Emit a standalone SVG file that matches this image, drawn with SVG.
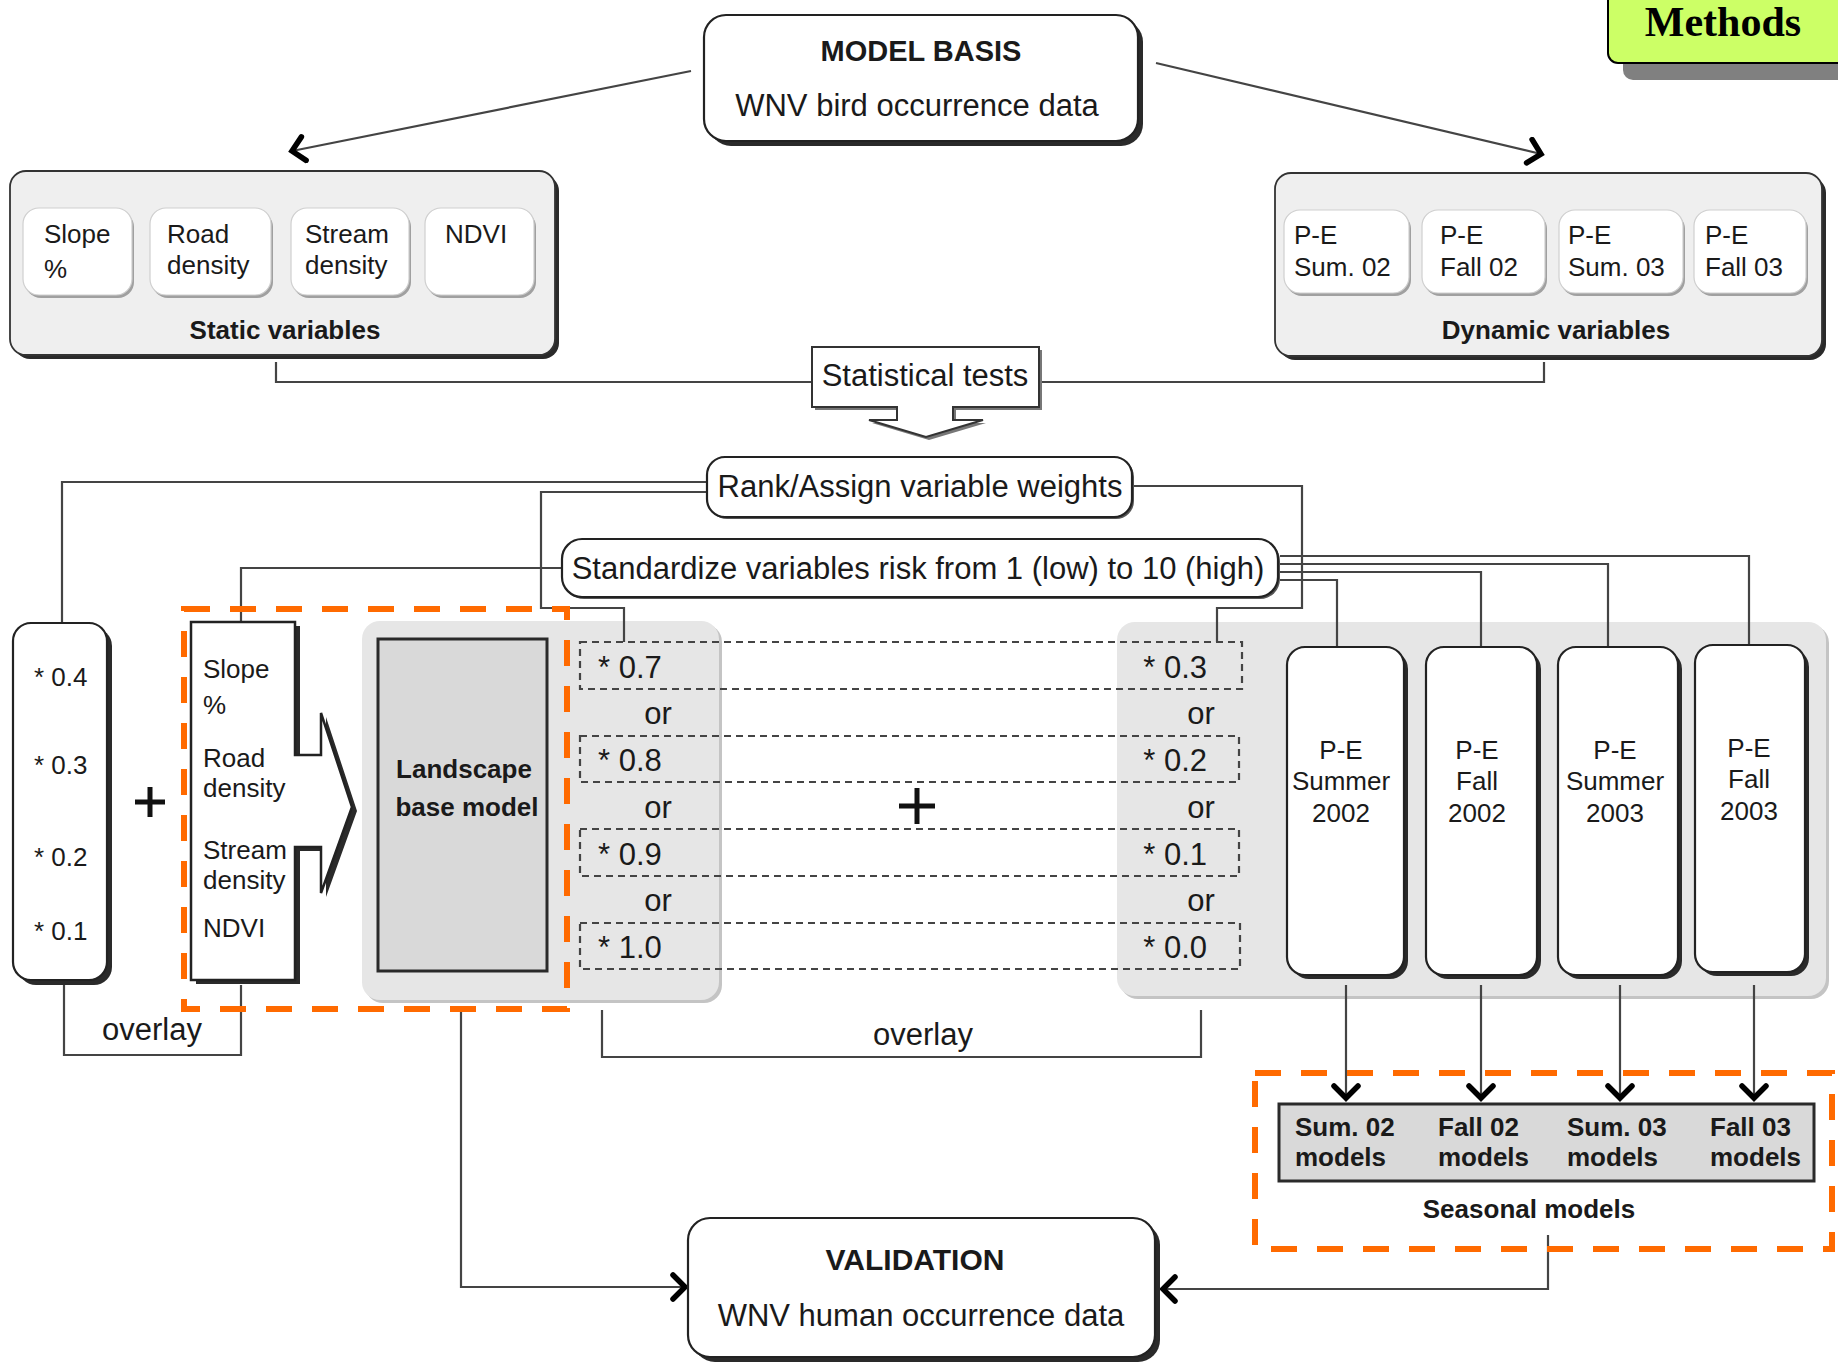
<svg xmlns="http://www.w3.org/2000/svg" width="1838" height="1364" viewBox="0 0 1838 1364">
<defs>
<marker id="chev" viewBox="0 0 20 30" refX="16" refY="15" markerWidth="20" markerHeight="30" markerUnits="userSpaceOnUse" orient="auto"><path d="M4,3 Q11,10 16,15 Q11,20 4,27" fill="none" stroke="#000" stroke-width="5.5" stroke-linecap="round"/></marker>
</defs>
<style>
text{font-family:"Liberation Sans",Arial,sans-serif;fill:#1a1a1a}
.t26{font-size:26px}
.t31{font-size:31px}
.b{font-weight:bold}
.c{text-anchor:middle}
.e{text-anchor:end}
.ln{fill:none;stroke:#444;stroke-width:2.2}
.arr{fill:none;stroke:#444;stroke-width:2.2;marker-end:url(#chev)}
.box{fill:#fff;stroke:#222;stroke-width:2.2}
.sh{fill:#2a2a2a}
.panel{fill:#efefef;stroke:#333;stroke-width:1.8}
.gpanel{fill:#e6e6e6}
.gsh{fill:#c4c4c4}
.chip{fill:#fff;stroke:#cfcfcf;stroke-width:1.2}
.chipsh{fill:#a0a0a0}
.dash{fill:none;stroke:#444;stroke-width:2.2;stroke-dasharray:7 5}
.orange{fill:none;stroke:#ff6a00;stroke-width:6;stroke-dasharray:26 20}
.gray{fill:#d9d9d9;stroke:#2a2a2a;stroke-width:3}
</style>
<rect width="1838" height="1364" fill="#fff"/>

<!-- Methods tag -->
<g id="methods">
<rect x="1623" y="-10" width="240" height="90" rx="10" fill="#808080"/>
<rect x="1608" y="-10" width="240" height="73" rx="10" fill="#ccff66" stroke="#000" stroke-width="2"/>
<text x="1723" y="36" text-anchor="middle" style="font-family:'Liberation Serif','Times New Roman',serif;font-weight:bold;font-size:42px;fill:#000">Methods</text>
</g>

<!-- Background panels -->
<g id="landscape-panel">
<rect x="365" y="624" width="357" height="379" rx="18" class="gsh"/>
<rect x="362" y="621" width="357" height="379" rx="18" class="gpanel"/>
</g>
<g id="dynamic-panel">
<rect x="1120" y="625" width="709" height="374" rx="18" class="gsh"/>
<rect x="1117" y="622" width="709" height="374" rx="18" class="gpanel"/>
</g>

<!-- Connectors -->
<g id="connectors">
<polyline class="arr" points="691,71 292,151"/>
<polyline class="arr" points="1156,63 1541,154"/>
<polyline class="ln" points="276,362 276,382 812,382"/>
<polyline class="ln" points="1039,382 1544,382 1544,362"/>
<polyline class="ln" points="707,482 62,482 62,623"/>
<polyline class="ln" points="707,492 541,492 541,608 624,608 624,642"/>
<polyline class="ln" points="1132,486 1302,486 1302,608 1217,608 1217,642"/>
<polyline class="ln" points="562,568 241,568 241,622"/>
<polyline class="ln" points="1280,556 1749,556 1749,645"/>
<polyline class="ln" points="1280,564 1608,564 1608,647"/>
<polyline class="ln" points="1280,572 1481,572 1481,647"/>
<polyline class="ln" points="1280,580 1337,580 1337,647"/>
<polyline class="ln" points="64,985 64,1055 241,1055 241,985"/>
<polyline class="ln" points="602,1010 602,1057 1201,1057 1201,1010"/>
<polyline class="arr" points="461,1009 461,1287 685,1287"/>
<polyline class="arr" points="1548,1235 1548,1289 1163,1289"/>
<line class="arr" x1="1346" y1="985" x2="1346" y2="1098"/>
<line class="arr" x1="1481" y1="985" x2="1481" y2="1098"/>
<line class="arr" x1="1620" y1="985" x2="1620" y2="1098"/>
<line class="arr" x1="1754" y1="985" x2="1754" y2="1098"/>
</g>

<!-- MODEL BASIS -->
<g id="model-basis">
<rect x="709" y="20" width="434" height="126" rx="22" class="sh"/>
<rect x="704" y="15" width="434" height="126" rx="22" class="box"/>
<text x="921" y="61" class="b c" style="font-size:29px">MODEL BASIS</text>
<text x="917" y="116" class="t31 c">WNV bird occurrence data</text>
</g>

<!-- Static variables -->
<g id="static-variables">
<rect x="14" y="175" width="545" height="184" rx="16" class="sh"/>
<rect x="10" y="171" width="545" height="184" rx="16" class="panel"/>
<rect x="25" y="211" width="109" height="87" rx="16" class="chipsh"/>
<rect x="23" y="208" width="109" height="87" rx="16" class="chip"/>
<rect x="152" y="211" width="121" height="87" rx="16" class="chipsh"/>
<rect x="150" y="208" width="121" height="87" rx="16" class="chip"/>
<rect x="293" y="211" width="118" height="87" rx="16" class="chipsh"/>
<rect x="291" y="208" width="118" height="87" rx="16" class="chip"/>
<rect x="427" y="211" width="109" height="87" rx="16" class="chipsh"/>
<rect x="425" y="208" width="109" height="87" rx="16" class="chip"/>
<text x="44" y="243" class="t26">Slope</text>
<text x="44" y="278" class="t26">%</text>
<text x="167" y="243" class="t26">Road</text>
<text x="167" y="274" class="t26">density</text>
<text x="305" y="243" class="t26">Stream</text>
<text x="305" y="274" class="t26">density</text>
<text x="445" y="243" class="t26">NDVI</text>
<text x="285" y="339" class="t26 b c">Static variables</text>
</g>

<!-- Dynamic variables -->
<g id="dynamic-variables">
<rect x="1279" y="177" width="547" height="183" rx="16" class="sh"/>
<rect x="1275" y="173" width="547" height="183" rx="16" class="panel"/>
<rect x="1286" y="213" width="125" height="83" rx="16" class="chipsh"/>
<rect x="1284" y="210" width="125" height="83" rx="16" class="chip"/>
<rect x="1424" y="213" width="123" height="83" rx="16" class="chipsh"/>
<rect x="1422" y="210" width="123" height="83" rx="16" class="chip"/>
<rect x="1561" y="213" width="124" height="83" rx="16" class="chipsh"/>
<rect x="1559" y="210" width="124" height="83" rx="16" class="chip"/>
<rect x="1696" y="213" width="112" height="83" rx="16" class="chipsh"/>
<rect x="1694" y="210" width="112" height="83" rx="16" class="chip"/>
<text x="1294" y="244" class="t26">P-E</text>
<text x="1294" y="276" class="t26">Sum. 02</text>
<text x="1440" y="244" class="t26">P-E</text>
<text x="1440" y="276" class="t26">Fall 02</text>
<text x="1568" y="244" class="t26">P-E</text>
<text x="1568" y="276" class="t26">Sum. 03</text>
<text x="1705" y="244" class="t26">P-E</text>
<text x="1705" y="276" class="t26">Fall 03</text>
<text x="1556" y="339" class="t26 b c">Dynamic variables</text>
</g>

<!-- Statistical tests -->
<g id="statistical-tests">
<path d="M815,350 H1042 V410 H956 V423 H986 L929,440 L872,423 H900 V410 H815 Z" fill="#777"/>
<path d="M812,347 H1039 V407 H953 V420 H983 L926,437 L869,420 H897 V407 H812 Z" fill="#fff" stroke="#333" stroke-width="2"/>
<text x="925" y="386" class="t31 c">Statistical tests</text>
</g>

<!-- Rank/Assign -->
<g id="rank-assign">
<rect x="709" y="459" width="425" height="60" rx="18" fill="#555"/>
<rect x="707" y="457" width="425" height="60" rx="18" class="box"/>
<text x="920" y="497" class="t31 c">Rank/Assign variable weights</text>
</g>

<!-- Standardize -->
<g id="standardize">
<rect x="564" y="541" width="716" height="58" rx="20" fill="#555"/>
<rect x="562" y="539" width="716" height="58" rx="20" class="box"/>
<text x="918" y="579" class="t31 c">Standardize variables risk from 1 (low) to 10 (high)</text>
</g>

<!-- Weights -->
<g id="weights">
<rect x="18" y="628" width="94" height="357" rx="18" class="sh"/>
<rect x="13" y="623" width="94" height="357" rx="18" class="box"/>
<text x="34" y="686" class="t26">* 0.4</text>
<text x="34" y="774" class="t26">* 0.3</text>
<text x="34" y="866" class="t26">* 0.2</text>
<text x="34" y="940" class="t26">* 0.1</text>
</g>

<g id="plus-left"><path d="M135,802 H165 M150,787 V817" stroke="#111" stroke-width="5"/></g>

<!-- Variables arrow box -->
<g id="variables">
<path d="M196,626 H300 V759 H326 V717 L357,811 L326,897 V851 H300 V984 H196 Z" class="sh"/>
<path d="M191,622 H295 V755 H321 V713 L352,807 L321,893 V847 H295 V980 H191 Z" fill="#fff" stroke="#222" stroke-width="2.5"/>
<text x="203" y="678" class="t26">Slope</text>
<text x="203" y="714" class="t26">%</text>
<text x="203" y="767" class="t26">Road</text>
<text x="203" y="797" class="t26">density</text>
<text x="203" y="859" class="t26">Stream</text>
<text x="203" y="889" class="t26">density</text>
<text x="203" y="937" class="t26">NDVI</text>
</g>

<!-- Landscape base model -->
<g id="landscape-base-model">
<rect x="378" y="639" width="169" height="332" class="gray"/>
<text x="464" y="778" class="t26 b c">Landscape</text>
<text x="467" y="816" class="t26 b c">base model</text>
</g>

<!-- Weight rows -->
<g id="weight-rows">
<rect x="580" y="642" width="662" height="47" class="dash"/>
<rect x="580" y="736" width="659" height="46" class="dash"/>
<rect x="580" y="829" width="659" height="47" class="dash"/>
<rect x="580" y="923" width="660" height="46" class="dash"/>
<text x="598" y="678" class="t31">* 0.7</text>
<text x="598" y="771" class="t31">* 0.8</text>
<text x="598" y="865" class="t31">* 0.9</text>
<text x="598" y="958" class="t31">* 1.0</text>
<text x="1207" y="678" class="t31 e">* 0.3</text>
<text x="1207" y="771" class="t31 e">* 0.2</text>
<text x="1207" y="865" class="t31 e">* 0.1</text>
<text x="1207" y="958" class="t31 e">* 0.0</text>
<text x="658" y="724" class="t31 c">or</text>
<text x="658" y="818" class="t31 c">or</text>
<text x="658" y="911" class="t31 c">or</text>
<text x="1201" y="724" class="t31 c">or</text>
<text x="1201" y="818" class="t31 c">or</text>
<text x="1201" y="911" class="t31 c">or</text>
</g>

<g id="plus-center"><path d="M899,806 H935 M917,788 V824" stroke="#111" stroke-width="5"/></g>

<!-- P-E seasonal boxes -->
<g id="pe-summer-2002">
<rect x="1291" y="651" width="117" height="328" rx="18" class="sh"/>
<rect x="1287" y="647" width="117" height="328" rx="18" class="box"/>
<text x="1341" y="759" class="t26 c">P-E</text>
<text x="1341" y="790" class="t26 c">Summer</text>
<text x="1341" y="822" class="t26 c">2002</text>
</g>
<g id="pe-fall-2002">
<rect x="1430" y="651" width="111" height="328" rx="18" class="sh"/>
<rect x="1426" y="647" width="111" height="328" rx="18" class="box"/>
<text x="1477" y="759" class="t26 c">P-E</text>
<text x="1477" y="790" class="t26 c">Fall</text>
<text x="1477" y="822" class="t26 c">2002</text>
</g>
<g id="pe-summer-2003">
<rect x="1562" y="651" width="120" height="328" rx="18" class="sh"/>
<rect x="1558" y="647" width="120" height="328" rx="18" class="box"/>
<text x="1615" y="759" class="t26 c">P-E</text>
<text x="1615" y="790" class="t26 c">Summer</text>
<text x="1615" y="822" class="t26 c">2003</text>
</g>
<g id="pe-fall-2003">
<rect x="1699" y="649" width="110" height="327" rx="18" class="sh"/>
<rect x="1695" y="645" width="110" height="327" rx="18" class="box"/>
<text x="1749" y="757" class="t26 c">P-E</text>
<text x="1749" y="788" class="t26 c">Fall</text>
<text x="1749" y="820" class="t26 c">2003</text>
</g>

<!-- overlay labels -->
<g id="overlay-labels">
<text x="152" y="1040" class="t31 c">overlay</text>
<text x="923" y="1045" class="t31 c">overlay</text>
</g>

<!-- Seasonal models -->
<g id="seasonal-models">
<rect x="1279" y="1104" width="535" height="77" class="gray"/>
<text x="1295" y="1136" class="t26 b">Sum. 02</text>
<text x="1295" y="1166" class="t26 b">models</text>
<text x="1438" y="1136" class="t26 b">Fall 02</text>
<text x="1438" y="1166" class="t26 b">models</text>
<text x="1567" y="1136" class="t26 b">Sum. 03</text>
<text x="1567" y="1166" class="t26 b">models</text>
<text x="1710" y="1136" class="t26 b">Fall 03</text>
<text x="1710" y="1166" class="t26 b">models</text>
<text x="1529" y="1218" class="t26 b c">Seasonal models</text>
</g>

<!-- VALIDATION -->
<g id="validation">
<rect x="693" y="1223" width="467" height="139" rx="22" class="sh"/>
<rect x="688" y="1218" width="467" height="139" rx="22" class="box"/>
<text x="915" y="1270" class="b c" style="font-size:30px">VALIDATION</text>
<text x="921" y="1326" class="t31 c">WNV human occurrence data</text>
</g>

<!-- Orange highlight frames -->
<g id="highlights">
<rect x="184" y="609" width="383" height="400" class="orange"/>
<rect x="1255" y="1073" width="577" height="176" class="orange"/>
</g>
</svg>
